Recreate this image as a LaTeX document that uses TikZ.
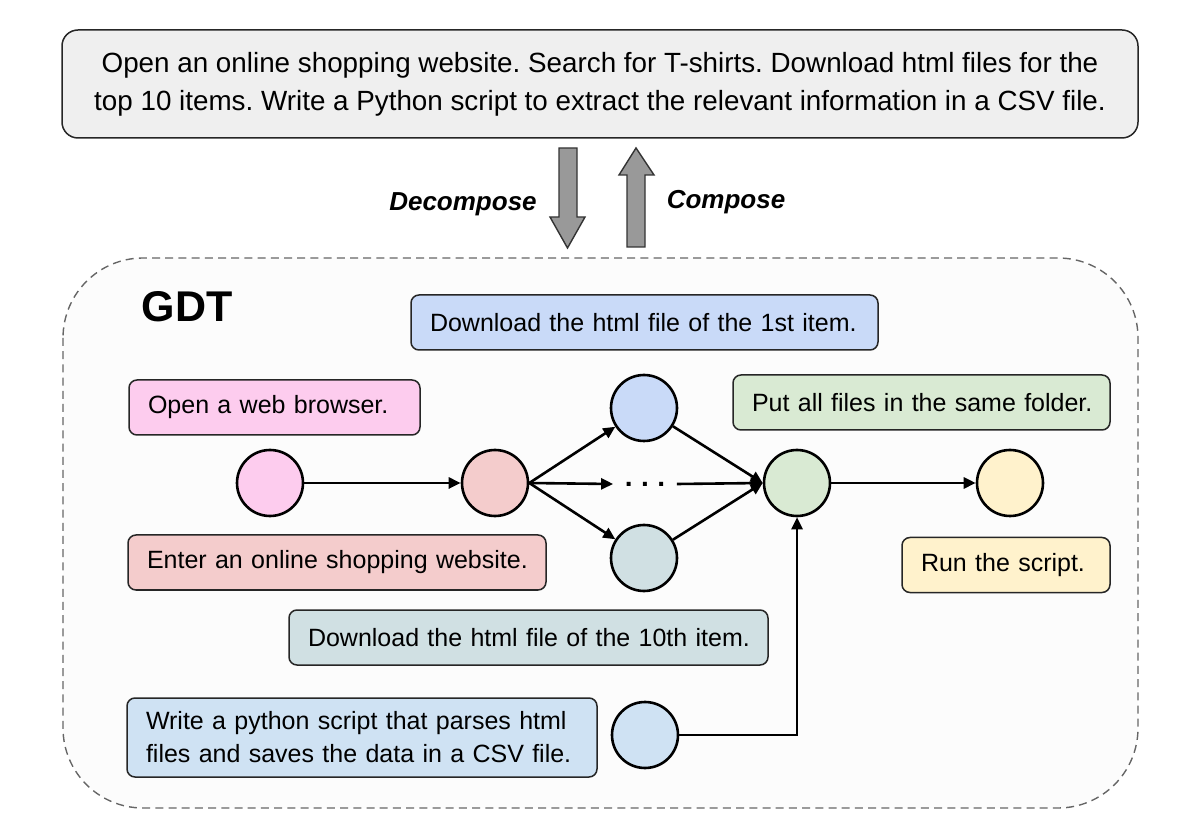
\documentclass[tikz,border=0pt]{standalone}
\usepackage{fontspec}
\setmainfont{Liberation Sans}
\usetikzlibrary{arrows.meta}
\frenchspacing
\definecolor{topfill}{HTML}{EFEFEF}
\definecolor{contfill}{HTML}{FCFCFC}
\definecolor{dashgray}{HTML}{666666}
\definecolor{cblue}{HTML}{C9DAF8}
\definecolor{cpink}{HTML}{FDCCEE}
\definecolor{cred}{HTML}{F4CCCC}
\definecolor{cgreen}{HTML}{D9EAD3}
\definecolor{cyellow}{HTML}{FFF2CC}
\definecolor{cgrayblue}{HTML}{D0E0E3}
\definecolor{clightblue}{HTML}{CFE2F3}
\definecolor{blockgray}{HTML}{999999}
\tikzset{
  txt/.style={font=\fontsize{12.5}{16.5}\selectfont},
  taskbox/.style={draw=black!85, line width=0.75pt, rounded corners=4pt, align=left,
    inner xsep=9.5pt, inner ysep=0pt, minimum height=27.5pt, txt},
  state/.style={circle, draw=black, line width=1.3pt, minimum size=33pt, inner sep=0pt},
  conn/.style={line width=1.3pt, -{Triangle[length=6pt,width=5.5pt]}},
  blockarrow/.style={fill=blockgray, draw=black!80, line width=0.7pt, line join=miter},
  biglabel/.style={font=\fontsize{13}{15}\selectfont\bfseries\itshape}
}
\begin{document}
\begin{tikzpicture}[x=0.5pt,y=-0.5pt]
\useasboundingbox (0,0) rectangle (1200,823);
% top task
\node[draw=black!85, fill=topfill, line width=0.75pt, rounded corners=8pt,
      minimum width=538pt, minimum height=54pt, align=center,
      font=\fontsize{13.9}{19}\selectfont] (top) at (600,84)
  {Open an online shopping website. Search for T-shirts. Download html files for the\\
   top 10 items. Write a Python script to extract the relevant information in a CSV file.};
% block arrows
\draw[blockarrow] (559,148) -- (577,148) -- (577,217) -- (585,217) -- (567.5,248)
   -- (550,217) -- (559,217) -- cycle;
\draw[blockarrow] (627,247) -- (645,247) -- (645,175) -- (654,175) -- (636,148)
   -- (619,175) -- (627,175) -- cycle;
\node[biglabel] (dec) at (463,204) {Decompose};
\node[biglabel] (comp) at (726,202) {Compose};
% container
\draw[dashgray, fill=contfill, line width=0.7pt, dash pattern=on 4pt off 2.6pt,
      rounded corners=40pt] (63,258) rectangle (1138,808);
\node[font=\fontsize{21.5}{24}\selectfont\bfseries] (gdt) at (187,307) {GDT};
% task boxes
\node[taskbox, fill=cblue, text width=214.5pt] (b1) at (644.5,322.5) {\mbox{Download the html file of the 1st item.}};
\node[taskbox, fill=cpink, text width=126.5pt] (bp) at (274.5,407.5) {\mbox{Open a web browser.}};
\node[taskbox, fill=cgreen, text width=169.5pt] (bg) at (921.5,402.5) {\mbox{Put all files in the same folder.}};
\node[taskbox, fill=cred, text width=190pt] (br) at (337,562.5) {\mbox{Enter an online shopping website.}};
\node[taskbox, fill=cyellow, text width=85pt] (by) at (1006,565) {\mbox{Run the script.}};
\node[taskbox, fill=cgrayblue, text width=220.5pt] (bgb) at (528.5,637.5) {\mbox{Download the html file of the 10th item.}};
\node[taskbox, fill=clightblue, text width=216pt, minimum height=39.5pt] (blb) at (362,737.5)
  {\mbox{Write a python script that parses html}\\\mbox{files and saves the data in a CSV file.}};
% states
\node[state, fill=cpink] (cp) at (270,483) {};
\node[state, fill=cred] (cr) at (495,483) {};
\node[state, fill=cblue] (cb) at (644,408) {};
\node[state, fill=cgrayblue] (cgb) at (644,558) {};
\node[state, fill=cgreen] (cg) at (797,483) {};
\node[state, fill=cyellow] (cy) at (1010,483) {};
\node[state, fill=clightblue] (clb) at (645,735) {};
\node[inner xsep=0pt, inner ysep=0pt, minimum width=31.5pt, text height=2.2pt, text depth=0pt,
      font=\fontsize{14}{14}\selectfont\bfseries] (dots) at (645,484) {.\hspace{4.2pt}.\hspace{4.2pt}.};
% connectors
\draw[conn] (cp) -- (cr);
\draw[conn] (cr.east) -- (cb);
\draw[conn] (cr.east) -- (dots.west);
\draw[conn] (cr.east) -- (cgb);
\draw[conn] (dots.east) -- (cg.west);
\draw[conn] (cb) -- (cg.west);
\draw[conn] (cgb) -- (cg.west);
\draw[conn] (cg) -- (cy);
\draw[conn] (clb.east) -| (cg.south);
\end{tikzpicture}
\end{document}
